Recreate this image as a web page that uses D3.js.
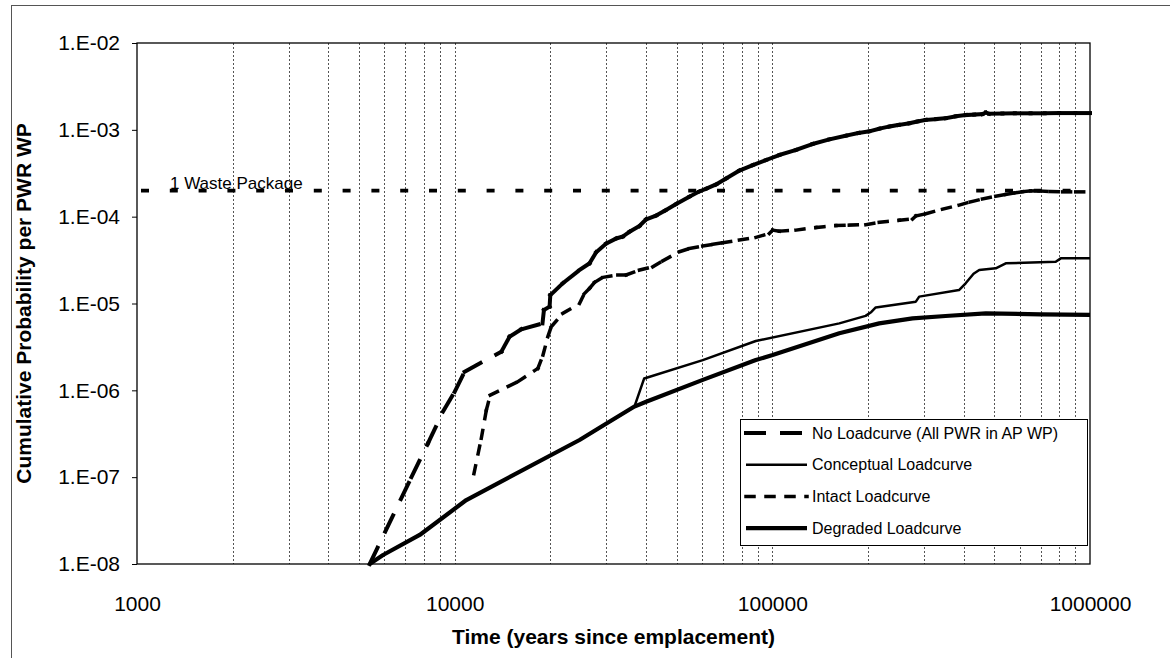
<!DOCTYPE html>
<html>
<head>
<meta charset="utf-8">
<script src="https://cdn.jsdelivr.net/npm/d3@7"></script>
<style>
  body { margin: 0; background: #fff; }
  svg text { font-family: "Liberation Sans", Arial, Helvetica, sans-serif; fill: #000; }
</style>
</head>
<body>
<svg id="chart" width="1170" height="660"></svg>
<script>
// ---- data ----
var xTickValues = [1000, 10000, 100000, 1000000];
var xTickLabels = ["1000", "10000", "100000", "1000000"];
var yTickValues = [1e-8, 1e-7, 1e-6, 1e-5, 1e-4, 1e-3, 1e-2];
var yTickLabels = ["1.E-08", "1.E-07", "1.E-06", "1.E-05", "1.E-04", "1.E-03", "1.E-02"];

var wasteLevel = 2e-4;

var noLoadYears = [5400, 7310, 8240, 9190, 10000, 10750, 14030, 14890, 16200, 18900, 19100, 19900, 20000, 21900,
  24720, 26580, 27900, 29990, 32240, 33830, 35510, 38170, 40060, 43070, 46000, 49800, 54830, 58940, 62000, 66500,
  71520, 78770, 86750, 95520, 105200, 118700, 133900, 151100, 170500, 187000, 201800, 217000, 233300, 250000,
  269700, 287000, 304200, 328000, 351700, 378000, 406400, 432000, 458500, 469600, 481200, 530000, 580000, 650000,
  720000, 800000, 900000, 1000000];
var noLoadProb = [1.0e-8, 1.0e-7, 2.45e-7, 5.7e-7, 9.6e-7, 1.64e-6, 2.79e-6, 4.15e-6, 5.04e-6, 5.9e-6, 8.4e-6, 9.2e-6, 1.25e-5, 1.71e-5,
  2.43e-5, 2.9e-5, 3.9e-5, 4.9e-5, 5.6e-5, 5.9e-5, 6.7e-5, 7.8e-5, 9.3e-5, 1.03e-4, 1.18e-4, 1.4e-4, 1.7e-4, 1.95e-4, 2.1e-4, 2.35e-4,
  2.75e-4, 3.4e-4, 3.93e-4, 4.49e-4, 5.13e-4, 5.86e-4, 6.87e-4, 7.77e-4, 8.55e-4, 9.2e-4, 9.6e-4, 1.03e-3, 1.09e-3, 1.14e-3,
  1.19e-3, 1.25e-3, 1.3e-3, 1.33e-3, 1.36e-3, 1.43e-3, 1.48e-3, 1.5e-3, 1.52e-3, 1.58e-3, 1.53e-3, 1.54e-3, 1.55e-3, 1.55e-3,
  1.55e-3, 1.56e-3, 1.56e-3, 1.56e-3];

var conceptYears = [5400, 5950, 7760, 10880, 24720, 28570, 36800, 39500, 60400, 88700, 162500, 196600, 205000, 211600,
  283000, 290000, 387000, 406000, 430000, 448000, 505000, 543000, 780000, 809000, 1000000];
var conceptProb = [1e-8, 1.27e-8, 2.16e-8, 5.45e-8, 2.68e-7, 3.7e-7, 6.5e-7, 1.37e-6, 2.23e-6, 3.7e-6, 5.9e-6, 7.2e-6, 8.0e-6, 9.0e-6,
  1.05e-5, 1.2e-5, 1.43e-5, 1.71e-5, 2.2e-5, 2.43e-5, 2.54e-5, 2.9e-5, 3.03e-5, 3.31e-5, 3.31e-5];

var intactYears = [11500, 12130, 12580, 12940, 15810, 18280, 18970, 19650, 20140, 21900,
  24720, 25600, 26600, 27560, 29280, 32630, 34650, 38170, 42040, 45200,
  51000, 54830, 60390, 65000, 69800, 78770, 88830, 97860, 100240, 105200,
  118700, 137200, 158600, 174700, 197000, 217000, 250800, 276300, 283100, 304200,
  343300, 387300, 420000, 458500, 505000, 543000, 580000, 612700, 650000, 691000,
  750000, 820000, 901500, 1000000];
var intactProb = [1.1e-7, 2.8e-7, 5.9e-7, 8.8e-7, 1.26e-6, 1.79e-6, 2.55e-6, 4.15e-6, 5.4e-6, 7.7e-6,
  1e-5, 1.3e-5, 1.5e-5, 1.75e-5, 2e-5, 2.13e-5, 2.13e-5, 2.43e-5, 2.65e-5, 3.1e-5,
  3.95e-5, 4.3e-5, 4.6e-5, 4.8e-5, 5e-5, 5.38e-5, 5.78e-5, 6.4e-5, 7e-5, 6.8e-5,
  7e-5, 7.5e-5, 7.9e-5, 8e-5, 8.1e-5, 8.6e-5, 9.1e-5, 9.4e-5, 1.02e-4, 1.08e-4,
  1.22e-4, 1.36e-4, 1.48e-4, 1.6e-4, 1.72e-4, 1.8e-4, 1.88e-4, 1.94e-4, 1.98e-4, 1.98e-4,
  1.95e-4, 1.93e-4, 1.93e-4, 1.93e-4];

var degradedYears = [5400, 5950, 7760, 10880, 24720, 28570, 36800, 40070, 60400, 88700, 100200, 162500, 217000,
  276300, 351000, 470000, 700000, 1000000];
var degradedProb = [1e-8, 1.27e-8, 2.16e-8, 5.45e-8, 2.68e-7, 3.7e-7, 6.5e-7, 7.4e-7, 1.32e-6, 2.23e-6, 2.55e-6, 4.54e-6, 5.9e-6,
  6.75e-6, 7.18e-6, 7.7e-6, 7.5e-6, 7.4e-6];

var seriesNames = ["No Loadcurve (All PWR in AP WP)", "Conceptual Loadcurve", "Intact Loadcurve", "Degraded Loadcurve"];

// ---- layout / styles ----
var plotLeft = 137, plotRight = 1090, plotTop = 43, plotBottom = 564;
var lineStyles = [
  { width: 4, dash: "18,18" },
  { width: 2.5, dash: null },
  { width: 3.5, dash: "8,12" },
  { width: 4.2, dash: null }
];

var svg = d3.select("#chart");

var x = d3.scaleLog().domain([1000, 1000000]).range([plotLeft, plotRight]);
var y = d3.scaleLog().domain([1e-8, 1e-2]).range([plotBottom, plotTop]);

// outer frame of the figure (only top and left survive in the scan)
svg.append("line").attr("x1", 11).attr("x2", 1170).attr("y1", 5.5).attr("y2", 5.5)
  .attr("stroke", "#555").attr("stroke-width", 1);
svg.append("line").attr("x1", 11.5).attr("x2", 11.5).attr("y1", 5).attr("y2", 658)
  .attr("stroke", "#555").attr("stroke-width", 1);

// vertical grid lines
var gridVals = x.ticks().filter(function(d) { return d > 1000 && d < 1000000; });
svg.append("g").selectAll("line")
  .data(gridVals)
  .join("line")
  .attr("x1", function(d) { return Math.round(x(d)) + 0.5; })
  .attr("x2", function(d) { return Math.round(x(d)) + 0.5; })
  .attr("y1", plotTop)
  .attr("y2", plotBottom)
  .attr("stroke", "#555")
  .attr("stroke-width", 1)
  .attr("stroke-dasharray", "2,2");

// plot frame
svg.append("rect")
  .attr("x", plotLeft).attr("y", plotTop)
  .attr("width", plotRight - plotLeft).attr("height", plotBottom - plotTop)
  .attr("fill", "none").attr("stroke", "#000").attr("stroke-width", 1.3);

// y axis
var yAxis = d3.axisLeft(y)
  .tickValues(yTickValues)
  .tickFormat(function(d) { return yTickLabels[yTickValues.indexOf(d)]; })
  .tickSize(5)
  .tickPadding(12);
var gy = svg.append("g").attr("transform", "translate(" + plotLeft + ",0)").call(yAxis);
gy.select(".domain").remove();
gy.attr("font-family", "Liberation Sans, Arial, sans-serif").attr("font-size", 21);

// x axis (labels only)
var xAxis = d3.axisBottom(x)
  .tickValues(xTickValues)
  .tickFormat(function(d) { return xTickLabels[xTickValues.indexOf(d)]; })
  .tickSize(0)
  .tickPadding(32);
var gx = svg.append("g").attr("transform", "translate(0," + plotBottom + ")").call(xAxis);
gx.select(".domain").remove();
gx.attr("font-family", "Liberation Sans, Arial, sans-serif").attr("font-size", 21);

// axis titles
svg.append("text")
  .text("Time (years since emplacement)")
  .attr("x", (plotLeft + plotRight) / 2)
  .attr("y", 644)
  .attr("text-anchor", "middle")
  .style("font-weight", "bold")
  .attr("font-size", "21px");

svg.append("text")
  .text("Cumulative Probability per PWR WP")
  .attr("transform", "rotate(-90)")
  .attr("x", -(plotTop + plotBottom) / 2)
  .attr("y", 31)
  .attr("text-anchor", "middle")
  .style("font-weight", "bold")
  .attr("font-size", "21px");

// 1 waste package reference line
svg.append("line")
  .attr("x1", plotLeft + 4).attr("x2", plotRight)
  .attr("y1", y(wasteLevel)).attr("y2", y(wasteLevel))
  .attr("stroke", "#000").attr("stroke-width", 3.8)
  .attr("stroke-dasharray", "8,20.8");
svg.append("text")
  .text("1 Waste Package")
  .attr("x", 170)
  .attr("y", y(wasteLevel) - 2)
  .attr("font-size", "17px");

// draws a series; dashed styles restart the pattern on every segment, like the original spreadsheet
function drawSeries(g, pts, style) {
  if (style.dash) {
    g.selectAll("line.seg")
      .data(d3.pairs(pts))
      .join("line")
      .attr("class", "seg")
      .attr("x1", function(d) { return d[0][0]; })
      .attr("y1", function(d) { return d[0][1]; })
      .attr("x2", function(d) { return d[1][0]; })
      .attr("y2", function(d) { return d[1][1]; })
      .attr("stroke", "#000")
      .attr("stroke-width", style.width)
      .attr("stroke-linecap", "square")
      .attr("stroke-dasharray", style.dash);
  } else {
    g.append("path")
      .attr("d", d3.line()(pts))
      .attr("fill", "none")
      .attr("stroke", "#000")
      .attr("stroke-width", style.width)
      .attr("stroke-linejoin", "round");
  }
}

var allYears = [noLoadYears, conceptYears, intactYears, degradedYears];
var allProb = [noLoadProb, conceptProb, intactProb, degradedProb];

var curves = svg.append("g");
[3, 1, 2, 0].forEach(function(s) {
  var pts = allYears[s].map(function(t, i) { return [x(t), y(allProb[s][i])]; });
  drawSeries(curves.append("g"), pts, lineStyles[s]);
});

// legend
var legend = svg.append("g");
legend.append("rect")
  .attr("x", 740.5).attr("y", 419.5)
  .attr("width", 347).attr("height", 126)
  .attr("fill", "#fff").attr("stroke", "#000").attr("stroke-width", 1);

seriesNames.forEach(function(name, i) {
  var ly = 433 + i * 31.7;
  drawSeries(legend.append("g"), [[746, ly], [807, ly]], lineStyles[i]);
  legend.append("text")
    .text(name)
    .attr("x", 812)
    .attr("y", ly)
    .attr("dy", "0.36em")
    .attr("font-size", "16px");
});
</script>
</body>
</html>
